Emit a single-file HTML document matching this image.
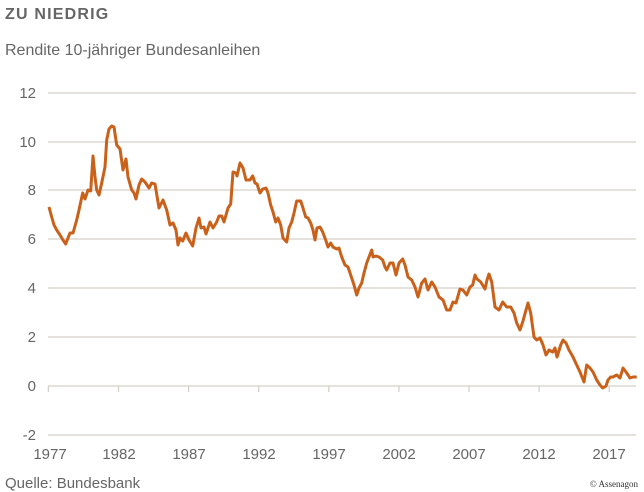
<!DOCTYPE html>
<html><head><meta charset="utf-8"><style>
body{margin:0;background:#fff;}
svg{display:block;font-family:"Liberation Sans",Arial,sans-serif;}
</style></head><body>
<svg width="644" height="492" viewBox="0 0 644 492">
<text x="5" y="19" font-size="16" font-weight="bold" fill="#666" letter-spacing="1.2">ZU NIEDRIG</text>
<text x="5" y="55" font-size="16" fill="#666">Rendite 10-jähriger Bundesanleihen</text>
<g stroke="#d5d1ca" stroke-width="1.3">
<line x1="48" y1="93" x2="636" y2="93"/><line x1="48" y1="142" x2="636" y2="142"/>
<line x1="48" y1="190" x2="636" y2="190"/><line x1="48" y1="239" x2="636" y2="239"/>
<line x1="48" y1="288" x2="636" y2="288"/><line x1="48" y1="337" x2="636" y2="337"/>
<line x1="48" y1="386" x2="636" y2="386"/><line x1="48" y1="435" x2="636" y2="435"/>
<line x1="48.4" y1="386" x2="48.4" y2="392"/><line x1="118.5" y1="386" x2="118.5" y2="392"/>
<line x1="188.6" y1="386" x2="188.6" y2="392"/><line x1="258.7" y1="386" x2="258.7" y2="392"/>
<line x1="328.8" y1="386" x2="328.8" y2="392"/><line x1="398.9" y1="386" x2="398.9" y2="392"/>
<line x1="469" y1="386" x2="469" y2="392"/><line x1="539.1" y1="386" x2="539.1" y2="392"/>
<line x1="609.2" y1="386" x2="609.2" y2="392"/>
</g>
<g font-size="15" fill="#666" text-anchor="end">
<text x="36" y="98">12</text><text x="36" y="147">10</text><text x="36" y="195">8</text>
<text x="36" y="244">6</text><text x="36" y="293">4</text><text x="36" y="342">2</text>
<text x="36" y="391">0</text><text x="36" y="440">-2</text>
</g>
<g font-size="15" fill="#666" text-anchor="middle">
<text x="50" y="459">1977</text><text x="119" y="459">1982</text><text x="189" y="459">1987</text>
<text x="259" y="459">1992</text><text x="329" y="459">1997</text><text x="399" y="459">2002</text>
<text x="469" y="459">2007</text><text x="539" y="459">2012</text><text x="609" y="459">2017</text>
</g>
<text x="5" y="488" font-size="15" fill="#666">Quelle: Bundesbank</text>
<text x="638" y="487" font-size="9" fill="#333" text-anchor="end" font-family="Liberation Serif,serif">© Assenagon</text>
<polyline fill="none" stroke="#c9611b" stroke-width="3" stroke-linejoin="round" points="
49,207 51.7,217 54,225 56.7,230 60,235 63,240 65.7,244 68,238 70,233 73,233 76.7,220 79,210 82.7,193 85,199 88,190 90.7,191 93,156 95,177 96.7,190 99,195 101.7,183 105,167 106.7,140 109,129 111.7,126 114,127 116.7,145 120,149 123,170 126,159 128,177 131.7,190 134,193 136,199 139,185 141.7,179 145,182 149,188 151.7,183 155,184 159,208 163,200 166.7,210 170,225 173,223 176,230 178,245 180,238 182.7,241 186,233 189,240 192.7,246 196,228 199,218 201,228 204,227 206,234 210,222 213,228 216.7,222 219,216 221.7,216 224,222 228,208 230.7,204 233,172 236,173 237,176 240,163 243,168 246,180 250,180 252.7,176 255,183 257,184 260,193 262.7,189 266,188 268,193 270.7,205 273,212 275.7,222 278,218 280.7,225 283,238 286.7,242 289,228 291.7,222 294,213 296.7,201 300.7,201 303,208 305.7,217 308,218 310.7,223 313,230 315,240 317,228 320,227 322.7,232 326,241 328,247 330.7,243 333,247 336.7,249 339,248 341.7,257 345,265 348,267 351.7,278 354,285 356.7,295 359,288 361.7,283 364,273 366.7,263 369,257 371.7,250 373,257 376,256 379,257 382.7,260 385,267 386.7,270 390,263 393,263 396,275 399,263 402.7,259 405,265 408,277 411.7,280 415,287 418,297 421.7,283 425,279 428,290 431.7,282 435,287 439,297 443,300 446.7,310 450,310 453,302 456,303 460,289 463,290 466.7,295 470,287 472.7,285 475,275 477,279 480.7,282 485,289 487,280 489,274 491.7,282 495,307 499,310 502.7,302 506.7,307 510.7,307 514,313 516.7,323 520,330 522.7,322 526,310 528,303 530.7,313 534,337 536.7,340 540,338 543,345 546,355 549,350 552.7,352 555,348 557,357 560.7,345 563,340 566,343 569,350 573,357 576.7,365 580,372 584,382 586.7,365 590,368 593,372 596.7,380 600,385 602.7,388 606,386 608,380 610.7,377 613,377 616.7,375 620,378 623,368 626.7,373 630,378 633,377 636.7,377"/>
</svg>
</body></html>
